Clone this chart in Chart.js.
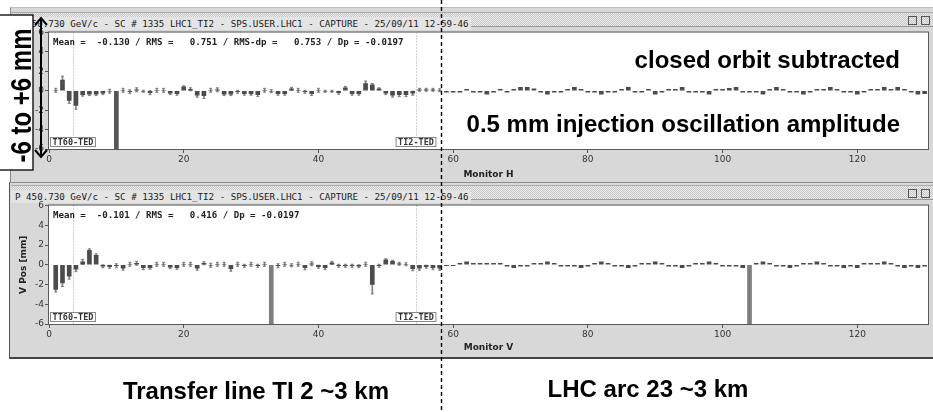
<!DOCTYPE html>
<html>
<head>
<meta charset="utf-8">
<script src="https://cdn.jsdelivr.net/npm/chart.js@4.4.1/dist/chart.umd.min.js"></script>
<style>
  body { margin: 0; width: 933px; height: 412px; background: #fff; position: relative; overflow: hidden; }
  .frame { position: absolute; background: #d8d8d8; }
  #frameH { left: 10px; top: 7px; width: 923px; height: 175px; border-top: 1px solid #bdbdbd; border-left: 1px solid #8a8a8a; }
  #frameV { left: 9px; top: 182px; width: 924px; height: 174px; border-top: 1px solid #8c8c8c; border-bottom: 2px solid #444; border-left: 1px solid #555; }
  .titlebar { position: absolute; left: 11px; width: 922px; height: 13px; border-top: 1px solid #aaa; border-bottom: 1px solid #999;
    background: repeating-conic-gradient(#c6c6c6 0 25%, #ececec 0 50%) 0 0/2px 2px; }
  .titlebar span { display: inline-block; background: #e4e4e4; font: 9.2px "DejaVu Sans Mono", monospace; color: #1a1a1a;
    line-height: 13px; padding: 0 2px 0 4px; white-space: pre; }
  .titlebar i { position: absolute; top: 3px; width: 7px; height: 7px; border: 1px solid #555; }
  canvas { position: absolute; left: 10px; }
  #chartH { top: 27px; }
  #chartV { top: 200px; }
  svg { position: absolute; left: 0; top: 0; }
  svg text { font-family: "Liberation Sans", Arial, sans-serif; font-weight: bold; font-size: 24px; fill: #000; }
</style>
</head>
<body>
<div class="frame" id="frameH"></div>
<div class="frame" id="frameV"></div>
<div class="titlebar" style="top:12px"><span>P 450.730 GeV/c - SC # 1335 LHC1_TI2 - SPS.USER.LHC1 - CAPTURE - 25/09/11 12-59-46</span><i style="left:897px"></i><i style="left:910px"></i></div>
<div class="titlebar" style="top:185px"><span>P 450.730 GeV/c - SC # 1335 LHC1_TI2 - SPS.USER.LHC1 - CAPTURE - 25/09/11 12-59-46</span><i style="left:897px"></i><i style="left:910px"></i></div>
<canvas id="chartH" width="923" height="153"></canvas>
<canvas id="chartV" width="923" height="157"></canvas>

<svg width="933" height="412">
  <line x1="441.5" y1="0" x2="441.5" y2="412" stroke="#000" stroke-width="1.4" stroke-dasharray="4 3"/>
  <rect x="-2" y="15" width="35" height="155" fill="#fff" stroke="#000" stroke-width="1.3"/>
  <text transform="translate(31,95.5) rotate(-90) scale(1,1.2)" text-anchor="middle">-6 to +6 mm</text>
  <path d="M41 18 V157 M35 25 L41 18 L47 25 M35 150 L41 157 L47 150" stroke="#000" stroke-width="2" fill="none"/>
  <text x="900" y="68" text-anchor="end">closed orbit subtracted</text>
  <text x="900" y="132" text-anchor="end">0.5 mm injection oscillation amplitude</text>
  <text x="256" y="399" text-anchor="middle">Transfer line TI 2 ~3 km</text>
  <text x="648" y="397" text-anchor="middle">LHC arc 23 ~3 km</text>
</svg>

<script>
// beam position per monitor (mm), monitors numbered from 1
const hPos = [
  0.05, 1.1, -1.0, -1.5, -0.4, -0.35, -0.35, -0.25, -0.05, -6,
  0.05, -0.1, 0.1, -0.05, -0.2, 0.05, 0.05, -0.25, -0.3, 0.4,
  0.15, -0.45, -0.5, 0.05, 0.1, -0.35, -0.35, -0.1, -0.3, -0.3,
  -0.4, 0.05, -0.05, -0.3, -0.3, 0.2, 0.05, -0.1, -0.3, 0.05,
  -0.05, -0.05, -0.2, 0.3, -0.3, -0.3, 0.75, 0.6, 0.2, -0.25,
  -0.45, -0.4, -0.4, -0.25, 0.1, 0.1, 0.1, 0.05, -0.15, -0.15,
  -0.15, 0.15, -0.15, -0.15, -0.35, -0.15, 0.15, -0.15, 0.15, 0.35,
  0.35, 0.2, -0.15, -0.35, -0.15, -0.15, 0.15, 0.35, 0.15, -0.15,
  -0.15, -0.35, -0.15, -0.15, 0.15, 0.35, -0.15, -0.15, 0.15, -0.35,
  -0.15, 0.15, 0.15, 0.35, -0.15, -0.15, -0.15, -0.35, 0.15, 0.15,
  0.25, 0.35, -0.15, -0.15, -0.15, -0.35, 0.15, 0.35, 0.15, -0.15,
  -0.15, -0.35, -0.15, 0.15, 0.15, 0.35, 0.15, -0.15, -0.15, -0.35,
  -0.15, 0.15, 0.15, 0.35, 0.15, 0.35, 0.15, -0.15, -0.35, -0.3
];
const hErr = [
  0.2, 0.4, 0.3, 0.4, 0.15, 0.15, 0.15, 0.15, 0.2, 0,
  0.2, 0.2, 0.2, 0.1, 0.2, 0.2, 0.2, 0.15, 0.15, 0.1,
  0.15, 0.2, 0.3, 0.2, 0.2, 0.15, 0.15, 0.15, 0.15, 0.15,
  0.2, 0.2, 0.15, 0.15, 0.15, 0.15, 0.2, 0.15, 0.2, 0.2,
  0.1, 0.1, 0.15, 0.15, 0.15, 0.15, 0.25, 0.15, 0.1, 0.15,
  0.2, 0.2, 0.2, 0.2, 0.15, 0.15, 0.15, 0.15
];
const vPos = [
  -2.5, -1.85, -1.15, -0.45, 0.3, 1.45, 0.95, -0.15, -0.2, -0.1,
  -0.35, 0.05, 0.15, -0.3, -0.3, 0.05, 0.05, -0.25, -0.3, 0.05,
  0.05, -0.35, 0.15, -0.05, 0.05, 0.05, -0.4, 0.05, -0.1, 0.05,
  -0.1, 0.05, -6, -0.1, 0.05, -0.05, 0.05, -0.3, 0.1, -0.2,
  -0.3, 0.2, -0.1, -0.1, -0.1, -0.15, 0.05, -2.0, -0.1, 0.5,
  0.35, 0.1, 0.05, -0.4, -0.35, -0.2, -0.3, -0.35, -0.1, -0.1,
  0.15, 0.3, 0.15, 0.15, 0.15, 0.15, 0.15, -0.15, -0.3, -0.15,
  -0.15, 0.15, 0.15, 0.3, 0.15, -0.15, -0.15, -0.15, -0.3, -0.15,
  0.15, 0.3, 0.15, -0.15, -0.15, -0.3, -0.15, 0.15, 0.15, 0.3,
  0.15, -0.15, -0.15, -0.3, -0.15, 0.15, 0.15, 0.3, 0.15, -0.15,
  -0.15, -0.15, -0.3, -6, 0.15, 0.3, 0.15, -0.15, -0.15, -0.3,
  -0.15, 0.15, 0.15, 0.3, 0.15, -0.15, -0.15, -0.3, -0.15, -0.3,
  0.15, 0.15, 0.15, 0.3, 0.15, -0.15, -0.3, -0.15, -0.3, -0.15
];
const vErr = [
  0.25, 0.35, 0.3, 0.25, 0.25, 0.15, 0.15, 0.15, 0.15, 0.2,
  0.2, 0.2, 0.2, 0.2, 0.15, 0.2, 0.2, 0.15, 0.15, 0.2,
  0.2, 0.2, 0.15, 0.2, 0.2, 0.2, 0.25, 0.2, 0.15, 0.2,
  0.15, 0.2, 0, 0.2, 0.2, 0.15, 0.2, 0.2, 0.2, 0.15,
  0.2, 0.15, 0.15, 0.15, 0.15, 0.15, 0.2, 0.95, 0.15, 0.1,
  0.1, 0.15, 0.15, 0.2, 0.2, 0.15, 0.2, 0.2
];
const xTicks = [0, 20, 40, 60, 80, 100, 120];
const yTicks = [-6, -4, -2, 0, 2, 4, 6];
const xMax = 130.5;
const markerPos = [3.5, 54.5];
const markerLabels = ['TT60-TED', 'TI2-TED'];
const statsH = 'Mean =  -0.130 / RMS =   0.751 / RMS-dp =   0.753 / Dp = -0.0197';
const statsV = 'Mean =  -0.101 / RMS =   0.416 / Dp = -0.0197';

const panelDeco = {
    id: 'panelDeco',
    beforeDraw(chart) {
        const {ctx, chartArea: a} = chart;
        const x = chart.scales.x;
        ctx.save();
        ctx.fillStyle = '#fff';
        ctx.fillRect(a.left, a.top, a.width, a.height);
        ctx.strokeStyle = '#a0a0a0';
        ctx.lineWidth = 1;
        ctx.setLineDash([1, 2]);
        markerPos.forEach(m => {
            const px = Math.round(x.getPixelForValue(m)) + 0.5;
            ctx.beginPath();
            ctx.moveTo(px, a.top);
            ctx.lineTo(px, a.bottom);
            ctx.stroke();
        });
        ctx.restore();
    },
    afterDraw(chart, args, opts) {
        const {ctx, chartArea: a} = chart;
        const x = chart.scales.x;
        ctx.save();
        ctx.strokeStyle = '#5a5a5a';
        ctx.lineWidth = 1;
        ctx.strokeRect(a.left - 0.5, a.top - 0.5, a.width + 1, a.height + 1);

        ctx.font = 'bold 8.5px "DejaVu Sans Mono"';
        ctx.textBaseline = 'middle';
        ctx.textAlign = 'center';
        markerPos.forEach((m, i) => {
            const px = Math.round(x.getPixelForValue(m));
            const w = ctx.measureText(markerLabels[i]).width + 5;
            ctx.fillStyle = '#fff';
            ctx.fillRect(px - w / 2, a.bottom - 12, w, 10);
            ctx.strokeStyle = '#8a8a8a';
            ctx.strokeRect(px - w / 2 + 0.5, a.bottom - 11.5, w - 1, 9);
            ctx.fillStyle = '#333';
            ctx.fillText(markerLabels[i], px, a.bottom - 6.5);
        });

        ctx.font = 'bold 9.1px "DejaVu Sans Mono"';
        ctx.textAlign = 'left';
        ctx.fillStyle = '#222';
        ctx.fillText(opts.stats, a.left + 4, a.top + 10.5);
        ctx.restore();
    }
};

function buildChart(canvasId, pos, err, opts) {
    const bars = pos.map((v, i) => ({x: i + 1, y: v}));
    const colors = pos.map(v => v <= -6 ? opts.deadColor : '#4c4c4c');
    const errBars = err.map((e, i) => ({x: i + 1, y: [pos[i] - e, pos[i] + e]})).filter(d => d.y[0] !== d.y[1]);
    const caps = [];
    errBars.forEach(d => {
        caps.push({x: d.x, y: d.y[0]}, {x: d.x, y: d.y[1]});
    });

    return new Chart(document.querySelector(canvasId), {
        type: 'bar',
        data: {
            datasets: [
                {data: bars, backgroundColor: colors, barThickness: 4, grouped: false, order: 0},
                {data: errBars, backgroundColor: '#808080', barThickness: 1, grouped: false, order: 2},
                {type: 'scatter', data: caps, pointStyle: 'line', radius: 1.5, borderColor: '#808080', borderWidth: 1, order: 1}
            ]
        },
        plugins: [panelDeco],
        options: {
            responsive: false,
            animation: false,
            layout: {padding: {left: 0, right: 2, top: 5, bottom: 0}},
            plugins: {
                legend: {display: false},
                tooltip: {enabled: false},
                panelDeco: {stats: opts.stats}
            },
            scales: {
                x: {
                    type: 'linear',
                    min: 0,
                    max: xMax,
                    offset: false,
                    afterBuildTicks: s => { s.ticks = xTicks.map(v => ({value: v})); },
                    afterFit: s => { s.height = opts.xHeight; },
                    grid: {drawOnChartArea: false, tickLength: 4, color: '#555', offset: false},
                    border: {display: false},
                    ticks: {font: {family: 'DejaVu Sans', size: 9}, color: '#333', padding: 1, maxRotation: 0},
                    title: {display: true, text: opts.xTitle, font: {family: 'DejaVu Sans', size: 9, weight: 'bold'},
                        color: '#222', padding: {top: 0, bottom: opts.titlePad}}
                },
                y: {
                    min: -6,
                    max: 6,
                    afterBuildTicks: s => { s.ticks = yTicks.map(v => ({value: v})); },
                    afterFit: s => { s.width = 39; },
                    grid: {drawOnChartArea: false, tickLength: 4, color: '#555'},
                    border: {display: false},
                    ticks: {font: {family: 'DejaVu Sans', size: 9, lineHeight: 1}, color: '#333', padding: 1},
                    title: {display: true, text: opts.yTitle, font: {family: 'DejaVu Sans', size: 9, weight: 'bold'},
                        color: '#222', padding: {top: 8, bottom: 0}}
                }
            }
        }
    });
}

buildChart('#chartH', hPos, hErr, {
    deadColor: '#555555', stats: statsH, xTitle: 'Monitor H', yTitle: 'H Pos [mm]', xHeight: 31, titlePad: 0
});
buildChart('#chartV', vPos, vErr, {
    deadColor: '#7e7e7e', stats: statsV, xTitle: 'Monitor V', yTitle: 'V Pos [mm]', xHeight: 33, titlePad: 4
});
</script>
</body>
</html>
